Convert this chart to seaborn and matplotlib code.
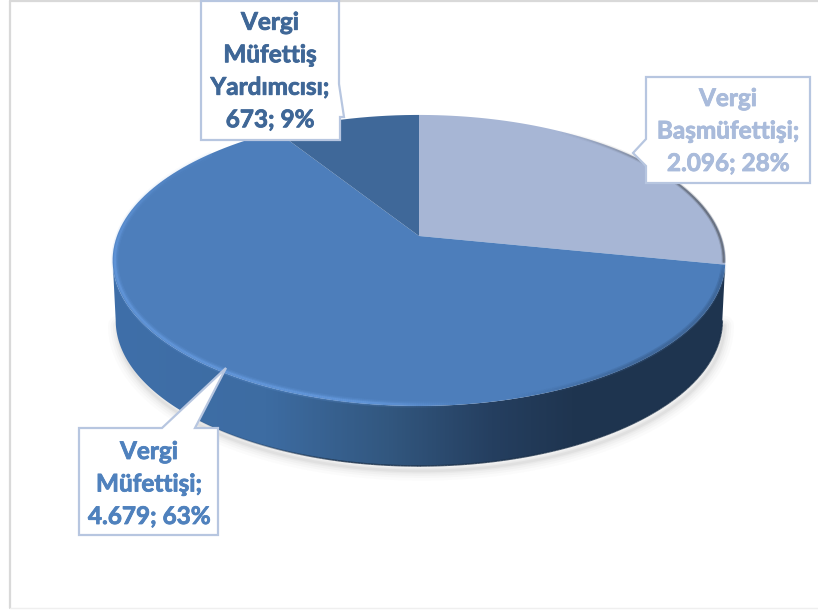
import numpy as np
import matplotlib
matplotlib.use("Agg")
import matplotlib.pyplot as plt
import matplotlib.patheffects as pe
import seaborn as sns
from matplotlib.collections import LineCollection
from matplotlib.colors import LinearSegmentedColormap, to_rgb
from matplotlib.patches import Polygon
from matplotlib.path import Path
from matplotlib.transforms import Affine2D, Transform

# data, clockwise from 12 o'clock
names = ["Vergi\nBaşmüfettişi", "Vergi\nMüfettişi", "Vergi\nMüfettiş\nYardımcısı"]
counts = [2096, 4679, 673]
percents = [28, 63, 9]
slice_colors = ["#A7B6D5", "#4D7EBB", "#3F6899"]
text_colors = ["#A9BBDB", "#4F81BD", "#3F6797"]

# the tilted disc, in pixels
CX, CY = 419, 236
A, B, K = 302, 141.4, 0.168
DEPTH = 60


def project(xy):
    xy = np.asarray(xy, dtype=float)
    w = 1 + K * xy[:, 1]
    return np.column_stack([CX + A * xy[:, 0] / w, CY - B * xy[:, 1] / w])


class Tilt(Transform):
    input_dims = 2
    output_dims = 2
    is_separable = False

    def transform_non_affine(self, values):
        return project(values)

    def transform_path_non_affine(self, path):
        # flatten the arcs first, a tilt does not keep bezier curves
        big = path.transformed(Affine2D().scale(500))
        pts = np.vstack(big.to_polygons(closed_only=False)) / 500
        return Path(project(pts))


def rim(deg, r=1.0):
    t = np.radians(deg)
    return project(np.column_stack([r * np.cos(t), r * np.sin(t)]))


def draw_rim(ax, deg, r, color, fade, widths, alphas):
    pts = rim(deg, r)
    segs = np.stack([pts[:-1], pts[1:]], axis=1)
    rgb = np.array(to_rgb(color))
    for lw, al in zip(widths, alphas):
        rgba = np.column_stack([np.tile(rgb, (len(segs), 1)), fade[:-1] * al])
        ax.add_collection(LineCollection(segs, colors=rgba, linewidths=lw, capstyle="butt", zorder=4))


sns.set_theme(style="white")
plt.rcParams["font.family"] = ["Lato", "DejaVu Sans"]

fig = plt.figure(figsize=(8.18, 6.10), dpi=100)
ax = fig.add_axes([0, 0, 1, 1])

wedges, _ = ax.pie(counts, colors=sns.color_palette(slice_colors), startangle=90, counterclock=False,
                   wedgeprops={"linewidth": 0})
tilt = Tilt() + ax.transData
for w in wedges:
    w.set_transform(tilt)
    w.set_zorder(3)

ax.set_aspect("auto")
ax.axis("off")

# side wall of the disc
edge = np.degrees(np.arcsin(K))
front = np.linspace(180 + edge, 360 - edge, 300)
top_edge = rim(front)
low_edge = top_edge.copy()
low_edge[:, 0] = CX + (low_edge[:, 0] - CX) * 0.99
low_edge[:, 1] += DEPTH

# soft shadow under the wall
shadow = low_edge + [2, 5]
for lw, al in zip([14, 10, 7, 4, 2], [0.025, 0.035, 0.045, 0.05, 0.07]):
    ax.plot(shadow[:, 0], shadow[:, 1], color="#777777", lw=lw, alpha=al, zorder=1, solid_capstyle="round")

wall = np.vstack([top_edge, low_edge[::-1]])
wall_cmap = LinearSegmentedColormap.from_list("wall", [(0, "#3F6FA9"), (0.25, "#3D6CA2"), (0.45, "#32577F"),
                                                      (0.62, "#253F60"), (0.75, "#1F3550"), (1, "#1E344F")])
im = ax.imshow(np.linspace(0, 1, 400)[None, :], cmap=wall_cmap, extent=(113, 725, 480, 240),
               aspect="auto", zorder=2)
im.set_clip_path(Polygon(wall, closed=True, transform=ax.transData))

# dark lip at the foot of the wall, only on the right part
pts = low_edge
segs = np.stack([pts[:-1], pts[1:]], axis=1)
lip = np.tile(np.array(to_rgb("#1B3049")), (len(segs), 1))
lip_a = np.clip((pts[:-1, 0] - 180) / 160, 0, 1) * 0.8
ax.add_collection(LineCollection(segs, colors=np.column_stack([lip, lip_a]), linewidths=1.1, zorder=2.5))

ax.set_xlim(0, 818)
ax.set_ylim(610, 0)

# bevel along the edge of the top face
deg = np.linspace(140, 300, 500)
px = rim(deg)[:, 0]
fade = np.clip((470 - px) / 110, 0, 1) * np.clip((deg - 140) / 50, 0.25, 1)
draw_rim(ax, deg, 0.993, "#6FA5EC", fade, [5, 3.2, 1.6], [0.14, 0.22, 0.42])

# blurred step from the top face into the dark wall on the right
deg3 = np.linspace(285, 349, 200)
fade3 = np.clip((deg3 - 285) / 25, 0, 1) * np.clip((349 - deg3) / 5, 0, 1)
draw_rim(ax, deg3, 0.995, "#3A5F8E", fade3, [4, 2], [0.35, 0.5])

# dark edge on the back right of the light slice
deg2 = np.linspace(-10.6, 58, 200)
fade2 = np.clip((58 - deg2) / 45, 0, 1)
draw_rim(ax, deg2, 0.995, "#4A4F57", fade2, [3, 1.4], [0.25, 0.6])

# callouts: box outline with the pointer, then the label
boxes = [
    [(646, 77), (810, 77), (810, 183), (646, 183), (646, 166), (633, 153), (646, 139)],
    [(79, 428), (162, 428), (226, 368), (195, 428), (218, 428), (218, 535), (79, 535)],
    [(201, 1), (339, 1), (339, 84), (344, 117), (340, 117), (340, 140), (201, 140)],
]
label_pos = [(728, 131), (149, 484), (270, 71)]

for i, (name, n, pct) in enumerate(zip(names, counts, percents)):
    ax.add_patch(Polygon(boxes[i], closed=True, facecolor="white", edgecolor="#B7C6E0", lw=1.6, zorder=5))
    value = f"{n:,}".replace(",", ".")
    label = f"{name};\n{value}; {pct}%"
    t = ax.text(label_pos[i][0], label_pos[i][1], label, color=text_colors[i], fontsize=17.5, fontweight="bold",
                ha="center", va="center", linespacing=1.5, zorder=6)
    # Lato bold is a little lighter than the reference face
    t.set_path_effects([pe.withStroke(linewidth=0.6, foreground=text_colors[i])])

# chart frame
ax.plot([10, 10], [1, 608], color="#D9D9D9", lw=1.6, zorder=0)
ax.plot([10, 818], [1, 1], color="#D9D9D9", lw=1.6, zorder=0)
ax.plot([10, 818], [608, 608], color="#EFEFEF", lw=1, zorder=0)

fig.savefig("out.png", dpi=100)
